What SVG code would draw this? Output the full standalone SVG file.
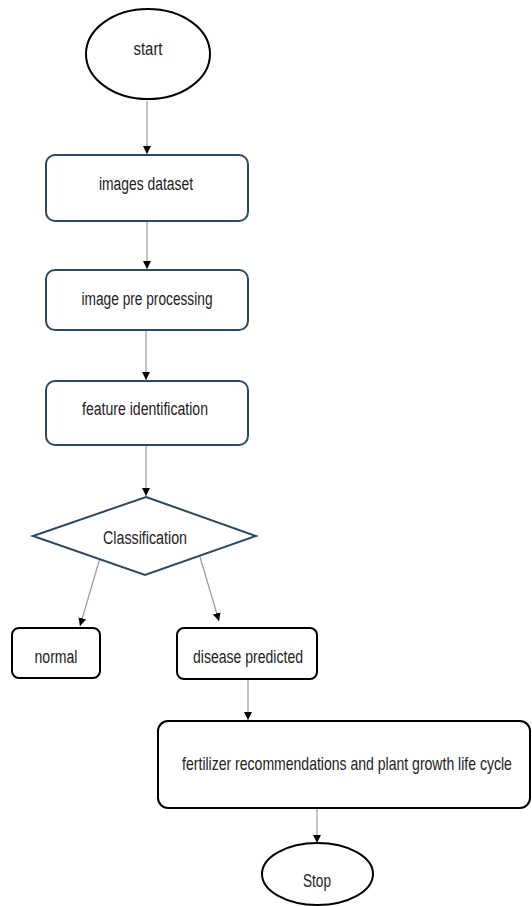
<svg xmlns="http://www.w3.org/2000/svg" width="532" height="906" viewBox="0 0 532 906">
<style>
.t{font-family:"Liberation Sans",Arial,sans-serif;font-size:18px;fill:#222;text-anchor:middle}
.blue{fill:#fff;stroke:#2c4a5e;stroke-width:2}
.blk{fill:#fff;stroke:#000;stroke-width:2}
.c{stroke:#9a9a9a;stroke-width:1.2;fill:none;marker-end:url(#ah)}
</style>
<defs>
<marker id="ah" viewBox="0 0 10 10" refX="10" refY="5" markerWidth="8" markerHeight="10" markerUnits="userSpaceOnUse" orient="auto">
<path d="M0,0 L10,5 L0,10 z" fill="#000"/>
</marker>
</defs>
<rect width="532" height="906" fill="#fff"/>
<g id="connectors">
<line class="c" x1="147" y1="101" x2="147" y2="154"/>
<line class="c" x1="147" y1="222" x2="147" y2="269"/>
<line class="c" x1="146" y1="331" x2="146" y2="380"/>
<line class="c" x1="146" y1="446" x2="146" y2="496"/>
<line class="c" x1="100" y1="558" x2="80" y2="626"/>
<line class="c" x1="200" y1="557" x2="219" y2="621"/>
<line class="c" x1="248" y1="680" x2="248" y2="720"/>
<line class="c" x1="317" y1="809" x2="317" y2="843"/>
</g>
<g id="start">
<ellipse class="blk" cx="148" cy="54" rx="62" ry="45" stroke-width="2.5"/>
<text class="t" x="148" y="55" textLength="29" lengthAdjust="spacingAndGlyphs">start</text>
</g>
<g id="images-dataset">
<rect class="blue" x="46" y="155" width="202" height="66" rx="9"/>
<text class="t" x="146" y="190" textLength="94" lengthAdjust="spacingAndGlyphs">images dataset</text>
</g>
<g id="image-pre-processing">
<rect class="blue" x="46" y="270" width="202" height="60" rx="9"/>
<text class="t" x="147" y="305" textLength="131" lengthAdjust="spacingAndGlyphs">image pre processing</text>
</g>
<g id="feature-identification">
<rect class="blue" x="46" y="381" width="202" height="64" rx="9"/>
<text class="t" x="145" y="415" textLength="126" lengthAdjust="spacingAndGlyphs">feature identification</text>
</g>
<g id="classification">
<polygon class="blue" points="146,497 256,536 145,575 33,536" stroke-width="2.5"/>
<text class="t" x="145" y="544" textLength="84" lengthAdjust="spacingAndGlyphs">Classification</text>
</g>
<g id="normal">
<rect class="blk" x="12" y="628" width="88" height="50" rx="7"/>
<text class="t" x="56" y="663" textLength="43" lengthAdjust="spacingAndGlyphs">normal</text>
</g>
<g id="disease-predicted">
<rect class="blk" x="177" y="628" width="140" height="51" rx="7"/>
<text class="t" x="248" y="663" textLength="110" lengthAdjust="spacingAndGlyphs">disease predicted</text>
</g>
<g id="fertilizer">
<rect class="blk" x="158" y="721" width="372" height="87" rx="10"/>
<text class="t" transform="translate(347,770) scale(0.78,1)" x="0" y="0">fertilizer recommendations and plant growth life cycle</text>
</g>
<g id="stop">
<ellipse class="blk" cx="317.5" cy="874" rx="55.5" ry="31"/>
<text class="t" x="317" y="887" textLength="28" lengthAdjust="spacingAndGlyphs">Stop</text>
</g>
</svg>
